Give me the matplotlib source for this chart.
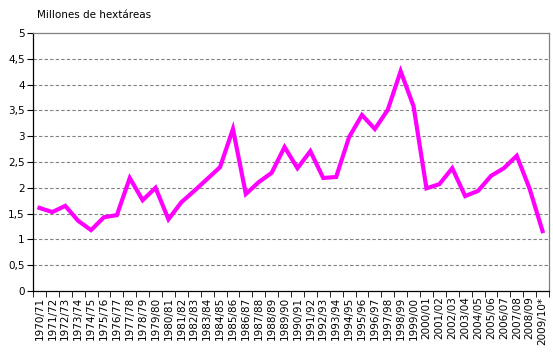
import numpy as np
import matplotlib.pyplot as plt

# Campaigns and area (millions of hectares)
campanas = ['1970/71', '1971/72', '1972/73', '1973/74', '1974/75', '1975/76', '1976/77',
            '1977/78', '1978/79', '1979/80', '1980/81', '1981/82', '1982/83', '1983/84',
            '1984/85', '1985/86', '1986/87', '1987/88', '1988/89', '1989/90', '1990/91',
            '1991/92', '1992/93', '1993/94', '1994/95', '1995/96', '1996/97', '1997/98',
            '1998/99', '1999/00', '2000/01', '2001/02', '2002/03', '2003/04', '2004/05',
            '2005/06', '2006/07', '2007/08', '2008/09', '2009/10*']
superficie = [1.61, 1.53, 1.65, 1.36, 1.18, 1.43, 1.47, 2.19, 1.76, 2.00,
              1.39, 1.72, 1.94, 2.17, 2.40, 3.14, 1.88, 2.11, 2.29, 2.79,
              2.38, 2.71, 2.19, 2.21, 2.98, 3.41, 3.14, 3.51, 4.26, 3.58,
              1.99, 2.07, 2.38, 1.84, 1.94, 2.23, 2.38, 2.62, 1.98, 1.16]
yticks = np.arange(0, 5.01, 0.5)

fig = plt.figure(figsize=(5.53, 3.6), dpi=100)
ax = fig.add_axes([33 / 553, 69 / 360, 516 / 553, 258 / 360])

x = np.arange(len(campanas))
ax.plot(x, superficie, color='#FF00FF', lw=3.0, solid_joinstyle='miter')

ax.set_xlim(-0.5, len(campanas) - 0.5)
ax.set_ylim(0, 5)
ax.set_yticks(yticks)
ax.set_yticklabels([f'{v:g}'.replace('.', ',') for v in yticks], fontsize=7.5)
for v in yticks[1:-1]:
    ax.axhline(v, color='#808080', lw=0.8, ls=(0, (3, 2)), zorder=0)

ax.set_xticks(x)
ax.set_xticklabels(campanas, rotation=90, fontsize=7.5)
ax.set_xticks(np.arange(-0.5, len(campanas), 1), minor=True)
ax.tick_params(axis='x', which='major', length=0, pad=4)
ax.tick_params(axis='x', which='minor', length=4, direction='out', color='black')
ax.tick_params(axis='y', length=4, direction='out', color='black', pad=2)

ax.spines['left'].set_color('black')
ax.spines['bottom'].set_color('black')
ax.spines['top'].set_color('#808080')
ax.spines['right'].set_color('#808080')
for s in ax.spines.values():
    s.set_linewidth(0.9)

fig.text(37 / 553, 1 - 15 / 360, 'Millones de hextáreas', fontsize=7.5, va='center')

fig.savefig('out.png', dpi=100)
